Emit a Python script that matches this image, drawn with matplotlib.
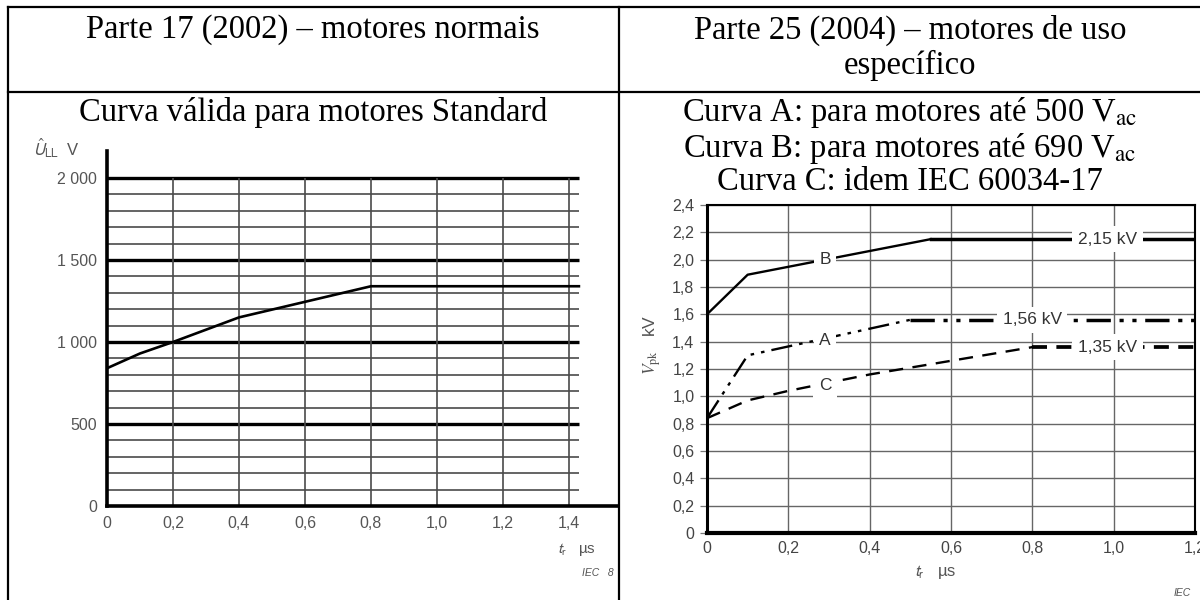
import numpy as np
import matplotlib
matplotlib.use('Agg')
from matplotlib import pyplot as plt
from matplotlib.lines import Line2D

# Parte 17 (2002) - curva valida para motores Standard
tr_17 = [0, 0.1, 0.2, 0.4, 0.8, 1.43]
u_17 = [840, 930, 1000, 1150, 1340, 1340]
xt_17 = [0, 0.2, 0.4, 0.6, 0.8, 1.0, 1.2, 1.4]
xl_17 = ['0', '0,2', '0,4', '0,6', '0,8', '1,0', '1,2', '1,4']
yt_17 = [0, 500, 1000, 1500, 2000]
yl_17 = ['0', '500', '1 000', '1 500', '2 000']

# Parte 25 (2004) - curvas A, B, C
tr_A = [0, 0.1, 0.5, 1.2]
v_A = [0.84, 1.30, 1.56, 1.56]
tr_B = [0, 0.1, 0.55, 1.2]
v_B = [1.60, 1.89, 2.15, 2.15]
tr_C = [0, 0.1, 0.2, 0.4, 0.8, 1.2]
v_C = [0.84, 0.97, 1.04, 1.16, 1.36, 1.36]
xt_25 = [0, 0.2, 0.4, 0.6, 0.8, 1.0, 1.2]
xl_25 = ['0', '0,2', '0,4', '0,6', '0,8', '1,0', '1,2']
yt_25 = [0, 0.2, 0.4, 0.6, 0.8, 1.0, 1.2, 1.4, 1.6, 1.8, 2.0, 2.2, 2.4]
yl_25 = ['0', '0,2', '0,4', '0,6', '0,8', '1,0', '1,2', '1,4', '1,6', '1,8', '2,0', '2,2', '2,4']

plt.rcParams['font.family'] = ['Liberation Sans', 'DejaVu Sans']

W, H = 1200, 600
fig = plt.figure(figsize=(12, 6), dpi=100)


def fx(px):
    return px / W


def fy(py):
    return 1 - py / H


# table lines
for xs, ys in [((8, 1200), (7, 7)), ((8, 1200), (92, 92)),
               ((8, 8), (7, 600)), ((619, 619), (7, 600))]:
    fig.add_artist(Line2D([fx(xs[0]), fx(xs[1])], [fy(ys[0]), fy(ys[1])],
                          color='black', lw=1.6))

serif = dict(family='Liberation Serif', fontsize=23.5, ha='center', va='center',
             math_fontfamily='stix')
fig.text(fx(313), fy(30), 'Parte 17 (2002) – motores normais', **serif)
fig.text(fx(313), fy(113), 'Curva válida para motores Standard', **serif)
fig.text(fx(910), fy(30), 'Parte 25 (2004) – motores de uso', **serif)
fig.text(fx(910), fy(65), 'específico', **serif)
fig.text(fx(910), fy(113), r'Curva A: para motores até 500 V$_{\mathrm{ac}}$', **serif)
fig.text(fx(910), fy(148), r'Curva B: para motores até 690 V$_{\mathrm{ac}}$', **serif)
fig.text(fx(910), fy(182), 'Curva C: idem IEC 60034-17', **serif)

# ---- left chart ----
ax1 = fig.add_axes([fx(107), fy(506), 510 / W, 355 / H])
ax1.set_xlim(0, 510 / 330)
ax1.set_ylim(0, 355 / 0.164)
for s in ['top', 'right']:
    ax1.spines[s].set_visible(False)
ax1.spines['left'].set_linewidth(2.6)
ax1.spines['bottom'].set_linewidth(2.6)
minor = [v for v in range(100, 2000, 100) if v % 500]
ax1.hlines(minor, 0, 1.43, color='#3a3a3a', lw=1.1)
ax1.hlines(yt_17[1:], 0, 1.43, color='black', lw=2.4)
ax1.vlines(xt_17[1:], 0, 2000, color='#4a4a4a', lw=1.2)
ax1.plot(tr_17, u_17, color='black', lw=1.9)
ax1.set_xticks(xt_17, xl_17)
ax1.set_yticks(yt_17, yl_17)
ax1.tick_params(length=0, labelsize=11.5, labelcolor='#555555')
ax1.tick_params(axis='x', pad=7)
ax1.tick_params(axis='y', pad=7)
fig.text(fx(33), fy(148), r'$\hat{U}_{\mathrm{LL}}$  V', fontsize=12, color='#555555',
         va='center', math_fontfamily='stixsans')
fig.text(fx(576), fy(549), r'$t_{\mathrm{r}}$   µs', fontsize=11, color='#555555',
         ha='center', va='center', math_fontfamily='stixsans')
fig.text(fx(582), fy(573), 'IEC   8', fontsize=7.5, style='italic', color='#555555',
         va='center')

# ---- right chart ----
ax2 = fig.add_axes([fx(707), fy(533), 488 / W, 328 / H])
ax2.set_xlim(0, 1.2)
ax2.set_ylim(0, 2.4)
ax2.spines['left'].set_linewidth(2.2)
ax2.spines['bottom'].set_linewidth(3.0)
ax2.spines['top'].set_linewidth(1.5)
ax2.spines['right'].set_linewidth(1.5)
ax2.set_xticks(xt_25, xl_25)
ax2.set_yticks(yt_25, yl_25)
ax2.grid(color='#666666', lw=1.0)
ax2.tick_params(labelsize=11.5, labelcolor='#444444', color='#777777')
ax2.tick_params(axis='y', length=5, width=0.9, pad=4)
ax2.tick_params(axis='x', length=0, pad=6)

ls_A = (0, (9, 3, 1.5, 3, 1.5, 3))
ls_C = (0, (6, 4))
ax2.plot(tr_B[:-1], v_B[:-1], color='black', lw=1.7, zorder=3)
ax2.plot(tr_B[-2:], v_B[-2:], color='black', lw=2.5, zorder=3)
ax2.plot(tr_A[:-1], v_A[:-1], color='black', lw=1.7, ls=ls_A, zorder=3)
ax2.plot(tr_A[-2:], v_A[-2:], color='black', lw=2.5, ls=(0, (7, 2.5, 1.2, 2.5, 1.2, 2.5)), zorder=3)
ax2.plot(tr_C[:-1], v_C[:-1], color='black', lw=1.7, ls=ls_C, zorder=3)
ax2.plot(tr_C[-2:], v_C[-2:], color='black', lw=2.7, ls=(0, (4, 2.5)), zorder=3)

lab = dict(ha='center', va='center', fontsize=12.5, color='#333333', zorder=5,
           bbox=dict(fc='white', ec='none', pad=4))
ax2.text(0.29, 2.0, 'B', **lab)
ax2.text(0.29, 1.41, 'A', **lab)
ax2.text(0.29, 1.08, 'C', **lab)
ax2.text(0.985, 2.15, '2,15 kV', **lab)
ax2.text(0.80, 1.56, '1,56 kV', **lab)
ax2.text(0.985, 1.36, '1,35 kV', **lab)

fig.text(fx(652), fy(345), r'$V_{\mathrm{pk}}$   kV', fontsize=12.5, color='#555555',
         rotation=90, ha='center', va='center', math_fontfamily='stix')
fig.text(fx(935), fy(572), r'$t_{\mathrm{r}}$   µs', fontsize=12, color='#555555',
         ha='center', va='center', math_fontfamily='stixsans')
fig.text(fx(1182), fy(593), 'IEC', fontsize=7.5, style='italic', color='#555555',
         ha='center', va='center')

fig.savefig('out.png', dpi=100)
